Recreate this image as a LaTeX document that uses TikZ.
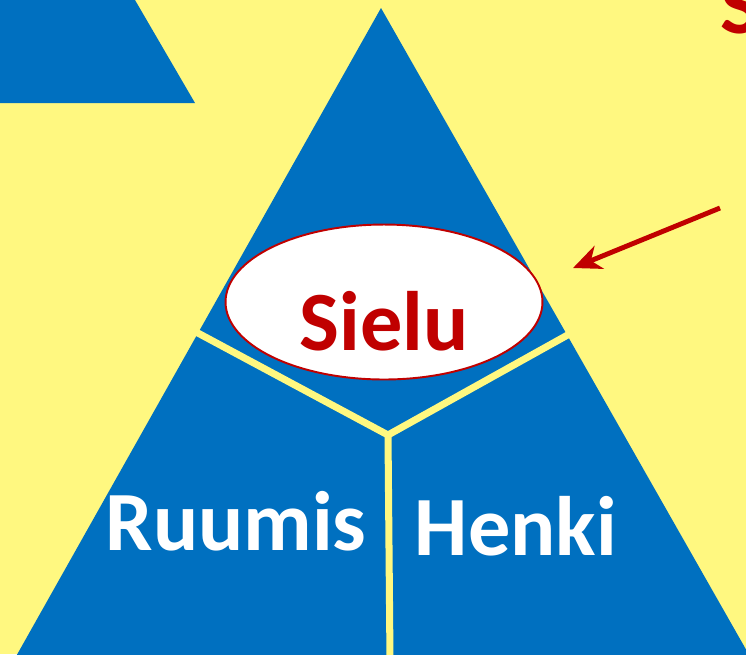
\documentclass[tikz,border=0pt]{standalone}
\usepackage{fontspec}
\setmainfont{Carlito}
\usepackage{xcolor}
\usepackage{tikz}
\usetikzlibrary{positioning,arrows.meta,shapes.geometric}
\definecolor{slideyellow}{RGB}{255,248,128}
\definecolor{slideblue}{RGB}{0,112,192}
\definecolor{darkred}{RGB}{192,0,0}

\begin{document}
\begin{tikzpicture}[x=0.02cm,y=-0.02cm]
  \useasboundingbox (0,0) rectangle (746,654);
  \clip (0,0) rectangle (746,654);
  \fill[slideyellow] (0,0) rectangle (746,654);
  % blue shapes
  \fill[slideblue] (0,0) -- (135,0) -- (195,103) -- (0,103) -- cycle;
  \fill[slideblue] (381,8) -- (14,660) -- (752,660) -- cycle;
  % split lines
  \coordinate (mid) at (388,435);
  \coordinate (leftcut) at (196,332);
  \coordinate (rightcut) at (573,332);
  \coordinate (bottomcut) at (390,660);
  \draw[slideyellow, line width=4pt] (leftcut) -- (mid) -- (rightcut);
  \draw[slideyellow, line width=4pt] (mid) -- (bottomcut);
  % soul
  \node[ellipse, draw=darkred, fill=white, line width=1.1pt, minimum width=6.34cm, minimum height=3.1cm] (sielu) at (384,302) {};
  \node[anchor=base, text=darkred, font=\fontsize{48}{50}\selectfont\bfseries] (sielutext) at (384,350) {Sielu};
  \node[anchor=base, text=white, font=\fontsize{48}{50}\selectfont\bfseries] (ruumis) at (236,550) {Ruumis};
  \node[anchor=base, text=white, font=\fontsize{48}{50}\selectfont\bfseries] (henki) at (516,555) {Henki};
  \node[anchor=base west, inner sep=0pt, text=darkred, font=\fontsize{48}{50}\selectfont\bfseries] (sword) at (720,33) {S};
  % pointer
  \coordinate (arrowstart) at (720,208);
  \coordinate (arrowtip) at (573,268);
  \draw[-{Stealth[length=16pt, width=14pt, inset=5pt]}, darkred, line width=2.8pt] (arrowstart) -- (arrowtip);
\end{tikzpicture}
\end{document}
